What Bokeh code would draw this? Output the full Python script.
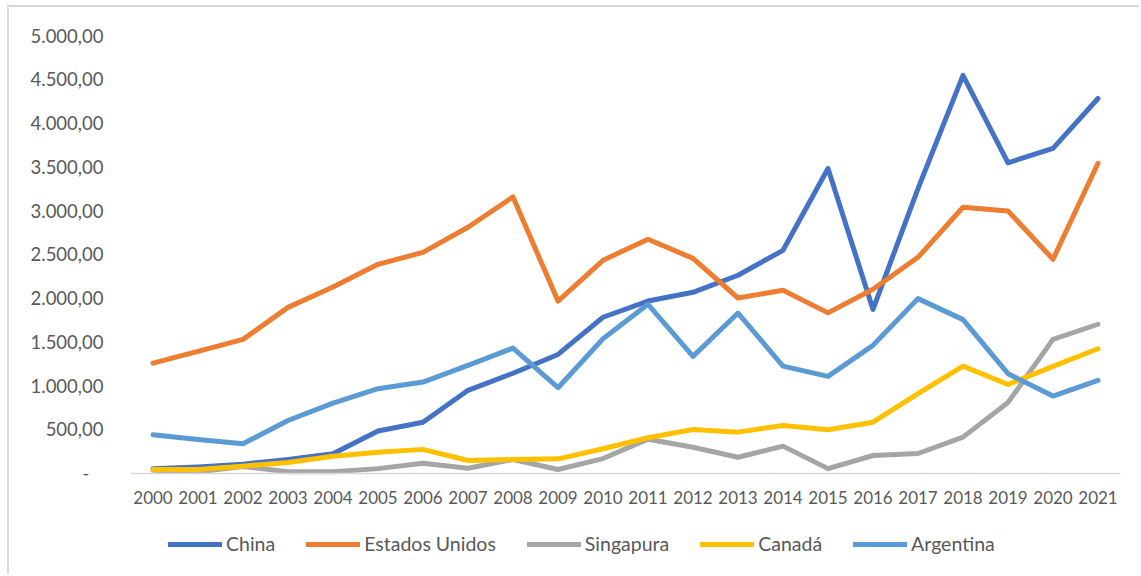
from bokeh.plotting import figure
from bokeh.models import FactorRange, Range1d, FixedTicker, Legend, LegendItem
from bokeh.embed import file_html
from bokeh.resources import INLINE

years = [str(y) for y in range(2000, 2022)]

china = [50, 70, 100, 155, 220, 480, 580, 945, 1140, 1355, 1780, 1965, 2065, 2260,
         2545, 3480, 1870, 3250, 4545, 3545, 3710, 4280]
estados_unidos = [1256, 1390, 1527, 1893, 2126, 2385, 2522, 2808, 3155, 1965, 2431, 2671,
                  2453, 2000, 2088, 1830, 2100, 2465, 3037, 2995, 2442, 3540]
singapura = [30, 15, 75, 15, 15, 50, 112, 55, 155, 40, 165, 385, 295, 180, 307, 50,
             200, 223, 410, 805, 1527, 1700]
canada = [40, 40, 78, 120, 192, 238, 270, 143, 155, 162, 277, 403, 497, 467, 543, 494,
          581, 906, 1222, 1012, 1218, 1420]
argentina = [437, 383, 334, 600, 799, 963, 1039, 1230, 1428, 975, 1535, 1928, 1333, 1828,
             1222, 1104, 1459, 1993, 1753, 1135, 879, 1058]

series_names = ["China", "Estados Unidos", "Singapura", "Canadá", "Argentina"]
series_values = [china, estados_unidos, singapura, canada, argentina]
series_colors = ["#4472C4", "#ED7D31", "#A5A5A5", "#FFC000", "#5B9BD5"]

y_ticks = [0, 500, 1000, 1500, 2000, 2500, 3000, 3500, 4000, 4500, 5000]
y_tick_labels = ["-\u00a0\u00a0\u00a0", "500,00", "1.000,00", "1.500,00", "2.000,00", "2.500,00",
                 "3.000,00", "3.500,00", "4.000,00", "4.500,00", "5.000,00"]

FONT = "Lato"
TEXT = "#595959"

# frame: 5000 at 28px from top, 0 at 465.5px; frame extends to the figure bottom
px_per_unit = 437.5 / 5000
frame_h = 569 - 28
y_start = 5000 - frame_h / px_per_unit

p = figure(x_range=FactorRange(*years, range_padding=0), y_range=Range1d(y_start, 5000),
           width=1132, height=569, output_backend="svg", toolbar_location=None,
           min_border_left=121, min_border_right=21, min_border_top=28, min_border_bottom=0)
p.styles = {"margin-left": "7px", "margin-top": "5px",
            "border-left": "2px solid #D9D9D9", "border-top": "2px solid #D9D9D9"}
p.outline_line_color = None
p.xgrid.visible = False
p.ygrid.visible = False

p.yaxis.ticker = FixedTicker(ticks=y_ticks)
p.yaxis.major_label_overrides = {t: l for t, l in zip(y_ticks, y_tick_labels)}
p.yaxis.axis_line_color = None
p.yaxis.major_tick_line_color = None
p.yaxis.minor_tick_line_color = None
p.yaxis.major_label_standoff = 21
p.yaxis.major_label_text_font = FONT
p.yaxis.major_label_text_font_size = "18.5px"
p.yaxis.major_label_text_color = TEXT

p.xaxis.fixed_location = 0
p.xaxis.axis_line_color = "#D9D9D9"
p.xaxis.axis_line_width = 1.5
p.xaxis.major_tick_line_color = None
p.xaxis.minor_tick_line_color = None
p.xaxis.major_label_standoff = 12
p.xaxis.major_label_text_font = FONT
p.xaxis.major_label_text_font_size = "17px"
p.xaxis.major_label_text_color = TEXT

items = []
for name, vals, col in zip(series_names, series_values, series_colors):
    r = p.line(years, vals, line_color=col, line_width=5, line_join="round", line_cap="round")
    items.append(LegendItem(label=name, renderers=[r]))

lg = Legend(items=items, location=(38, 21), orientation="horizontal",
            glyph_width=54, glyph_height=20, label_standoff=4, spacing=31,
            padding=0, margin=0, border_line_color=None, background_fill_alpha=0,
            label_text_font=FONT, label_text_font_size="19.5px", label_text_color=TEXT)
p.add_layout(lg, "center")

open("out.html", "w").write(file_html(p, INLINE))
